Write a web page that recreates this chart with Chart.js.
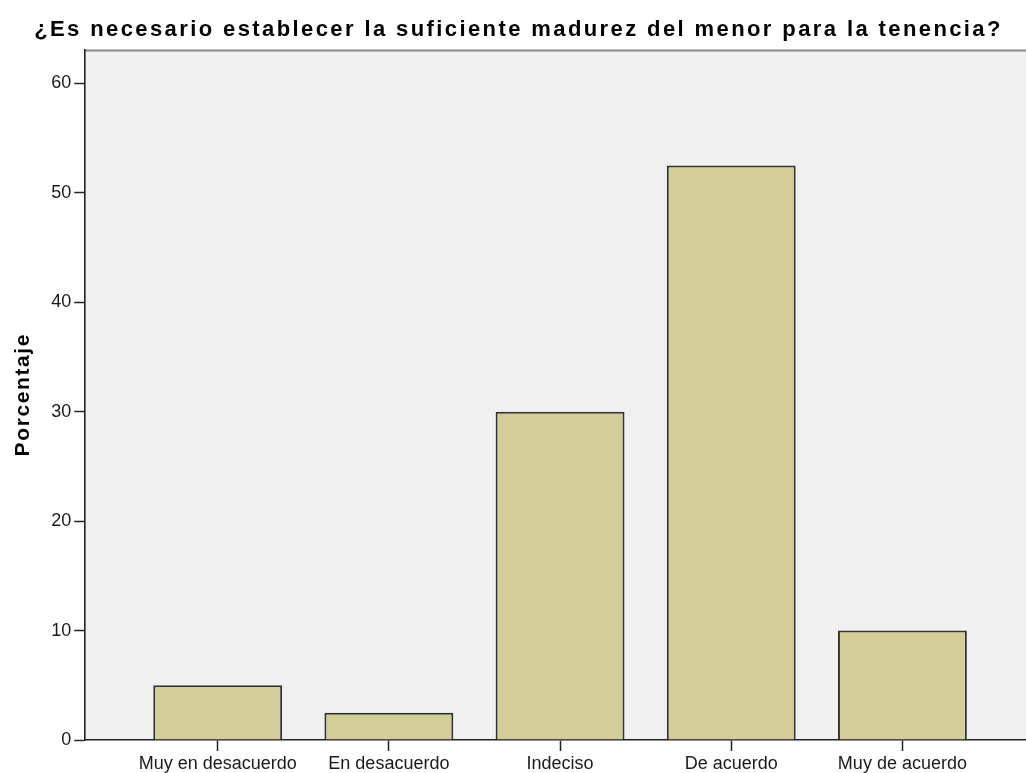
<!DOCTYPE html>
<html>
<head>
<meta charset="utf-8">
<script src="https://cdn.jsdelivr.net/npm/chart.js@4.4.1/dist/chart.umd.min.js"></script>
<style>
html,body{margin:0;padding:0;background:#ffffff;}
canvas{display:block;}
</style>
</head>
<body>
<canvas id="c" width="1026" height="773"></canvas>
<script>
// ---- data ----
const chartTitle = '¿Es necesario establecer la suficiente madurez del menor para la tenencia?';
const yAxisTitle = 'Porcentaje';
const categories = ['Muy en desacuerdo', 'En desacuerdo', 'Indeciso', 'De acuerdo', 'Muy de acuerdo'];
const percentages = [5.0, 2.5, 30.0, 52.5, 10.0];
const yTickValues = [0, 10, 20, 30, 40, 50, 60];
const yMax = 63.1;

// ---- styles ----
const FONT = '"Liberation Sans", Arial, Helvetica, sans-serif';
const INK = '#1a1a1a';
const AXIS = '#222222';
const PLOT_BG = '#f0f0f0';
const BAR_FILL = '#d3ce98';
const BAR_EDGE = '#333333';

Chart.defaults.font.family = FONT;
Chart.defaults.color = INK;

// chart-area background + top frame line
const frame = {
  id: 'frame',
  beforeDraw(chart) {
    const {ctx, chartArea: a} = chart;
    ctx.save();
    ctx.fillStyle = PLOT_BG;
    ctx.fillRect(a.left, a.top, a.right - a.left, a.bottom - a.top);
    ctx.strokeStyle = '#8a8a8a';
    ctx.lineWidth = 2;
    ctx.beginPath();
    ctx.moveTo(a.left, a.top + 1);
    ctx.lineTo(a.right, a.top + 1);
    ctx.stroke();
    ctx.restore();
  }
};

// wider tracking for the title texts (as in the reference rendering)
const tracking = {
  id: 'tracking',
  beforeDraw(chart) {
    const tb = chart.titleBlock;
    if (tb && !tb._tracked) {
      const orig = tb.draw;
      tb.draw = function (...args) {
        const ctx = this.ctx;
        const prev = ctx.letterSpacing;
        ctx.letterSpacing = '2.4px';
        orig.apply(this, args);
        ctx.letterSpacing = prev || '0px';
      };
      tb._tracked = true;
    }
    const ys = chart.scales.y;
    if (ys && !ys._tracked) {
      const origT = ys.drawTitle;
      ys.drawTitle = function (...args) {
        const ctx = this.ctx;
        const prev = ctx.letterSpacing;
        ctx.letterSpacing = '1.6px';
        origT.apply(this, args);
        ctx.letterSpacing = prev || '0px';
      };
      ys._tracked = true;
    }
  }
};

new Chart(document.getElementById('c'), {
  type: 'bar',
  data: {
    labels: categories,
    datasets: [{
      label: yAxisTitle,
      data: percentages,
      backgroundColor: BAR_FILL,
      borderColor: BAR_EDGE,
      borderWidth: 2,
      barPercentage: 0.753,
      categoryPercentage: 1.0
    }]
  },
  options: {
    responsive: false,
    animation: false,
    layout: { padding: { left: 11, right: 0, top: 0, bottom: -4 } },
    plugins: {
      legend: { display: false },
      tooltip: { enabled: false },
      title: {
        display: true,
        text: chartTitle,
        color: '#000',
        font: { size: 22, weight: 'bold', family: FONT },
        padding: { top: 17, bottom: 6 }
      }
    },
    scales: {
      x: {
        type: 'category',
        offset: true,
        afterBuildTicks(s) {
          // extra empty room on both sides of the categories, like the reference
          s._startValue = -0.774;
          s._valueRange = 5.496;
        },
        grid: {
          display: true,
          offset: false,
          drawOnChartArea: false,
          drawTicks: true,
          tickLength: 11,
          tickColor: AXIS,
          tickWidth: 1.5
        },
        border: { display: true, color: AXIS, width: 1.6 },
        ticks: {
          color: INK,
          font: { size: 18, lineHeight: 1 },
          padding: 4,
          maxRotation: 0,
          autoSkip: false
        }
      },
      y: {
        min: 0,
        max: yMax,
        afterBuildTicks(s) {
          s.ticks = yTickValues.map(v => ({ value: v }));
        },
        grid: {
          display: true,
          drawOnChartArea: false,
          drawTicks: true,
          tickLength: 11,
          tickColor: AXIS,
          tickWidth: 1.5
        },
        border: { display: true, color: AXIS, width: 1.6 },
        ticks: {
          color: INK,
          font: { size: 18 },
          padding: 3
        },
        title: {
          display: true,
          text: yAxisTitle,
          color: '#000',
          font: { size: 21, weight: 'bold', family: FONT },
          padding: { top: 0, bottom: 12 }
        }
      }
    }
  },
  plugins: [frame, tracking]
});
</script>
</body>
</html>
